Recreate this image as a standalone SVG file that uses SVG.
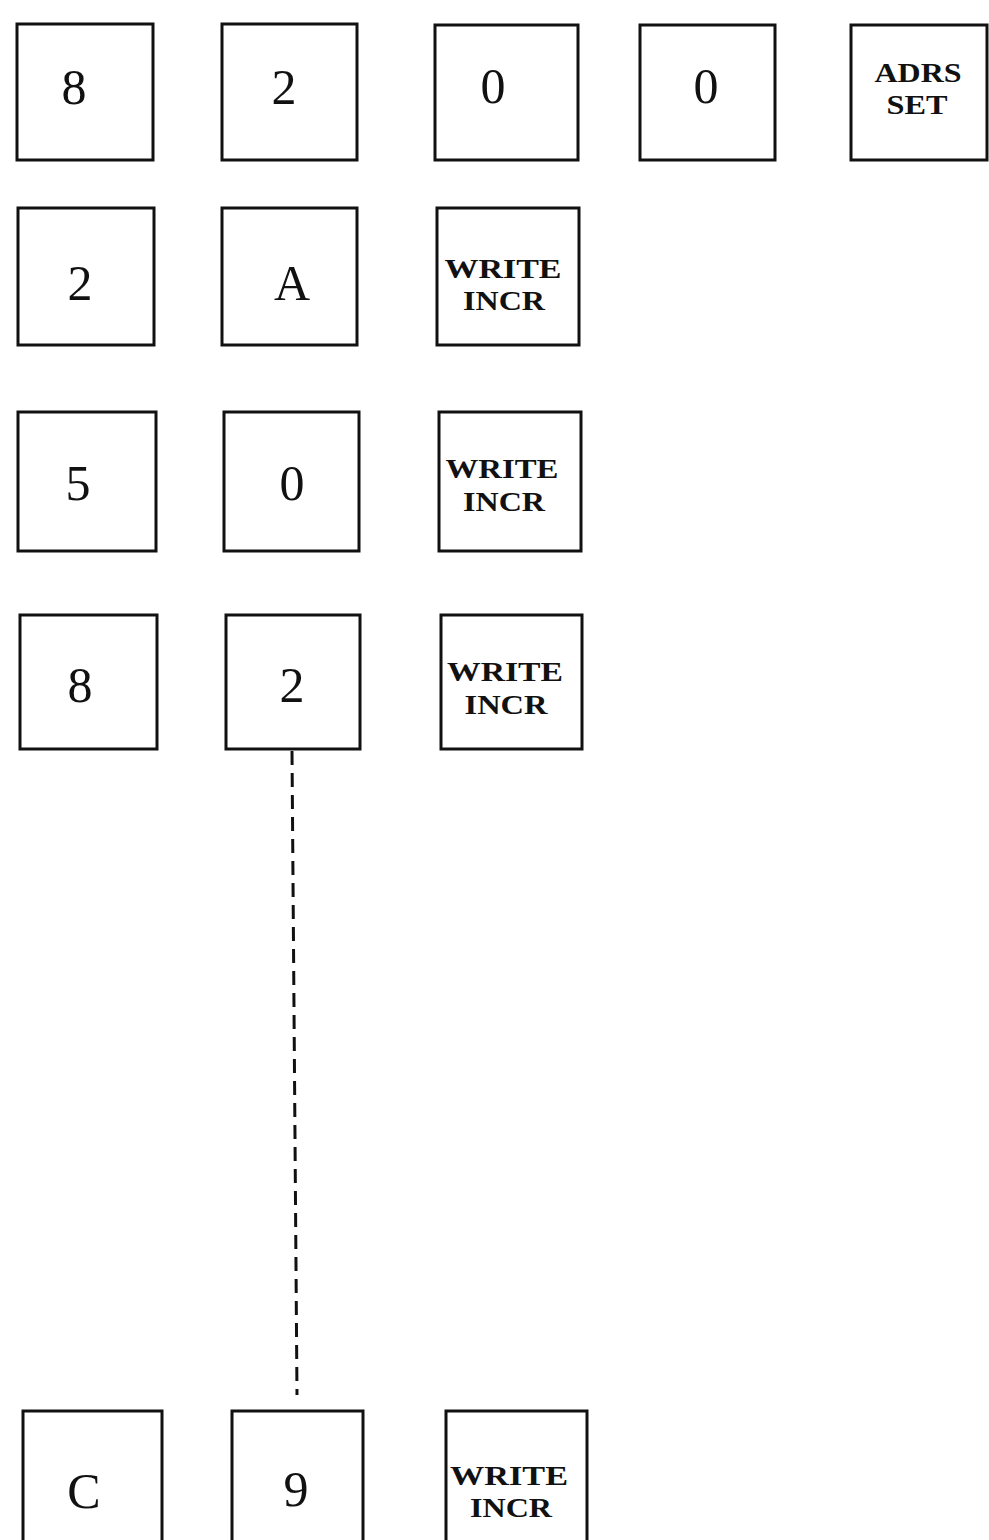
<svg xmlns="http://www.w3.org/2000/svg" width="989" height="1540" viewBox="0 0 989 1540">
<style>
.k{fill:#fff;stroke:#111;stroke-width:3}
.d{font-family:"Liberation Serif","DejaVu Serif",serif;font-size:50px;fill:#111;text-anchor:middle}
.w{font-family:"Liberation Serif","DejaVu Serif",serif;font-size:28px;font-weight:bold;fill:#111;text-anchor:middle}
.c{fill:none;stroke:#111;stroke-width:3;stroke-dasharray:14 8}
</style>
<rect width="989" height="1540" fill="#fff"/>
<g id="connectors">
<line class="c" x1="292" y1="751" x2="297" y2="1395"/>
</g>
<g id="r1c1"><rect class="k" x="17" y="24" width="136" height="136"/><text class="d" x="74" y="104">8</text></g>
<g id="r1c2"><rect class="k" x="222" y="24" width="135" height="136"/><text class="d" x="284" y="104">2</text></g>
<g id="r1c3"><rect class="k" x="435" y="25" width="143" height="135"/><text class="d" x="493" y="103">0</text></g>
<g id="r1c4"><rect class="k" x="640" y="25" width="135" height="135"/><text class="d" x="706" y="103">0</text></g>
<g id="r1c5"><rect class="k" x="851" y="25" width="136" height="135"/><text class="w" x="918" y="82" textLength="87" lengthAdjust="spacingAndGlyphs">ADRS</text><text class="w" x="917" y="114" textLength="61" lengthAdjust="spacingAndGlyphs">SET</text></g>
<g id="r2c1"><rect class="k" x="18" y="208" width="136" height="137"/><text class="d" x="80" y="300">2</text></g>
<g id="r2c2"><rect class="k" x="222" y="208" width="135" height="137"/><text class="d" x="292" y="300">A</text></g>
<g id="r2c3"><rect class="k" x="437" y="208" width="142" height="137"/><text class="w" x="503" y="278" textLength="117" lengthAdjust="spacingAndGlyphs">WRITE</text><text class="w" x="504" y="310" textLength="82" lengthAdjust="spacingAndGlyphs">INCR</text></g>
<g id="r3c1"><rect class="k" x="18" y="412" width="138" height="139"/><text class="d" x="78" y="500">5</text></g>
<g id="r3c2"><rect class="k" x="224" y="412" width="135" height="139"/><text class="d" x="292" y="500">0</text></g>
<g id="r3c3"><rect class="k" x="439" y="412" width="142" height="139"/><text class="w" x="502" y="478" textLength="113" lengthAdjust="spacingAndGlyphs">WRITE</text><text class="w" x="504" y="511" textLength="82" lengthAdjust="spacingAndGlyphs">INCR</text></g>
<g id="r4c1"><rect class="k" x="20" y="615" width="137" height="134"/><text class="d" x="80" y="702">8</text></g>
<g id="r4c2"><rect class="k" x="226" y="615" width="134" height="134"/><text class="d" x="292" y="702">2</text></g>
<g id="r4c3"><rect class="k" x="441" y="615" width="141" height="134"/><text class="w" x="505" y="681" textLength="116" lengthAdjust="spacingAndGlyphs">WRITE</text><text class="w" x="506" y="714" textLength="83" lengthAdjust="spacingAndGlyphs">INCR</text></g>
<g id="r5c1"><rect class="k" x="23" y="1411" width="139" height="160"/><text class="d" x="84" y="1508">C</text></g>
<g id="r5c2"><rect class="k" x="232" y="1411" width="131" height="160"/><text class="d" x="296" y="1506">9</text></g>
<g id="r5c3"><rect class="k" x="446" y="1411" width="141" height="160"/><text class="w" x="509" y="1485" textLength="118" lengthAdjust="spacingAndGlyphs">WRITE</text><text class="w" x="511" y="1517" textLength="82" lengthAdjust="spacingAndGlyphs">INCR</text></g>
</svg>
